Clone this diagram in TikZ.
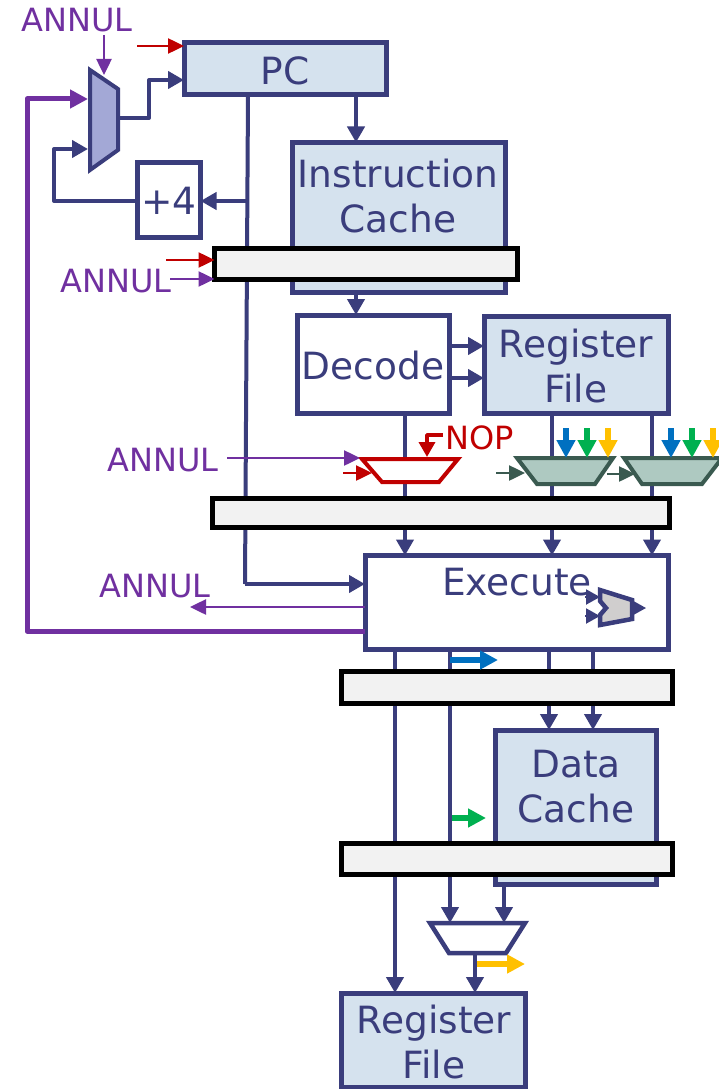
\documentclass[tikz,border=0pt]{standalone}
\usepackage{fontspec}
\setmainfont{DejaVu Sans}
\usetikzlibrary{arrows.meta,calc}
\definecolor{navy}{HTML}{3A3D7C}
\definecolor{boxblue}{HTML}{D5E2EE}
\definecolor{purp}{HTML}{7030A0}
\definecolor{redd}{HTML}{C00000}
\definecolor{latchfill}{HTML}{F2F2F2}
\definecolor{mux1fill}{HTML}{A3A8D6}
\definecolor{gmux}{HTML}{AEC9C1}
\definecolor{gline}{HTML}{3A5A50}
\definecolor{alufill}{HTML}{D0CECE}
\definecolor{cblue}{HTML}{0070C0}
\definecolor{cgreen}{HTML}{00B050}
\definecolor{cyellow}{HTML}{FFC000}
\newcommand{\bigf}{\fontsize{37.5}{45}\selectfont}
\newcommand{\smf}{\fontsize{32}{36}\selectfont}
\tikzset{
  x=1pt,y=-1pt,
  boxbase/.style={draw=navy,line width=5pt,outer sep=0pt,inner sep=0pt,text=navy,align=center,font=\bigf},
  bluebox/.style={boxbase,fill=boxblue},
  whitebox/.style={boxbase,fill=white},
  latch/.style={draw=black,fill=latchfill,line width=5pt,outer sep=0pt,inner sep=0pt},
  lbl/.style={text=navy,font=\bigf,align=center,inner sep=0pt},
  annul/.style={text=purp,font=\smf,inner sep=0pt},
  wire/.style={navy,line width=4pt,-{Triangle[length=16pt,width=17pt]}},
  plainwire/.style={navy,line width=4pt},
  thinp/.style={purp,line width=2.5pt,-{Triangle[length=16pt,width=15pt]}},
  thinr/.style={redd,line width=2.5pt,-{Triangle[length=16pt,width=15pt]}},
  thing/.style={gline,line width=2.5pt,-{Triangle[length=16pt,width=15pt]}},
  thickp/.style={purp,line width=5pt},
  colarrow/.style={line width=6.5pt,-{Triangle[length=18pt,width=18pt]}},
  muxslot/.style={inner sep=0pt,outer sep=0pt},
  redmux/.style={draw=redd,fill=white,line width=4pt},
  greenmux/.style={draw=gline,fill=gmux,line width=4pt},
}
\begin{document}
\begin{tikzpicture}
\useasboundingbox (0,0) rectangle (718,1089);
\fill[white] (0,0) rectangle (718,1089);

% guide coordinates
\foreach \n/\v in {248/248,356/356,405/405,552/552,652/652,395/395,450/450,549/549,593/593,504/504,475/475,245/245}
  {\coordinate (x\n) at (\v,0);}
\foreach \n/\v in {80/80,201/201,346/346,378/378,584/584,607/607,631/631}
  {\coordinate (y\n) at (0,\v);}

% boxes
\node[bluebox,minimum width=202pt,minimum height=52pt] (pc) at (285,69) {};
\node[bluebox,minimum width=212.5pt,minimum height=149.5pt] (icache) at (398.75,217.25) {};
\node[whitebox,minimum width=63pt,minimum height=74.5pt] (plus) at (169,199.75) {};
\node[whitebox,minimum width=152pt,minimum height=98pt] (decode) at (373,364) {};
\node[bluebox,minimum width=184pt,minimum height=97pt] (rf1) at (576,364.5) {};
\node[whitebox,minimum width=303pt,minimum height=93.5pt] (exec) at (516.5,602.25) {};
\node[bluebox,minimum width=160.5pt,minimum height=154pt] (dcache) at (575.75,807) {};
\node[bluebox,minimum width=184.5pt,minimum height=94pt] (rf2) at (433.25,1040) {};

% mux slots (named anchors for the drawn trapezia)
\node[muxslot,minimum width=28pt,minimum height=103pt] (mux1) at (104,119.5) {};
\node[muxslot,minimum width=100pt,minimum height=24pt] (muxn) at (410,471) {};
\node[muxslot,minimum width=100pt,minimum height=26pt] (muxa) at (565,471) {};
\node[muxslot,minimum width=100pt,minimum height=26pt] (muxb) at (672,471) {};
\node[muxslot,minimum width=101pt,minimum height=30pt] (muxw) at (477.5,938) {};

% free ends
\coordinate (mux1out) at (120,118);
\coordinate (mux1in1) at (88,99);
\coordinate (mux1in2) at (88,149);
\coordinate (bendA) at (149,118);
\coordinate (bendB) at (149,80);
\coordinate (loopA) at (54,201);
\coordinate (loopB) at (54,149);
\coordinate (tl) at (27,99);
\coordinate (bl) at (27,631);
\coordinate (tap) at (247,201);

% wires behind latches
\draw[plainwire] (x248 |- pc.south) -- (x245 |- y584);
\draw[wire] (x245 |- y584) -- (exec.west |- y584);
\draw[wire] (tap) -- (plus.east |- y201);
\draw[wire] (x356 |- pc.south) -- (x356 |- icache.north);
\draw[wire] (x356 |- icache.south) -- (x356 |- decode.north);
\draw[wire] (decode.east |- y346) -- (rf1.west |- y346);
\draw[wire] (decode.east |- y378) -- (rf1.west |- y378);
\draw[wire] (x405 |- decode.south) -- (x405 |- exec.north);
\draw[wire] (x552 |- rf1.south) -- (x552 |- exec.north);
\draw[wire] (x652 |- rf1.south) -- (x652 |- exec.north);
\draw[wire] (x395 |- exec.south) -- (x395 |- rf2.north);
\draw[wire] (x450 |- exec.south) -- (x450 |- muxw.north);
\draw[wire] (x549 |- exec.south) -- (x549 |- dcache.north);
\draw[wire] (x593 |- exec.south) -- (x593 |- dcache.north);
\draw[wire] (x504 |- dcache.south) -- (x504 |- muxw.north);
\draw[wire] (x475 |- muxw.south) -- (x475 |- rf2.north);

% muxes above pass-through wires
\draw[draw=navy,fill=mux1fill,line width=4pt,line join=miter] (90,70) -- (118,89) -- (118,150) -- (90,170) -- cycle;
\draw[redmux] (362,459) -- (458,459) -- (439,482) -- (382,482) -- cycle;
\draw[greenmux] (517,458) -- (613,458) -- (595,484) -- (537,484) -- cycle;
\draw[greenmux] (624,458) -- (722,458) -- (702,484) -- (642,484) -- cycle;
\draw[draw=navy,fill=white,line width=4.5pt] (430,923) -- (525,923) -- (506,953) -- (449,953) -- cycle;

% mux 1 wiring
\draw[wire,line join=round] (mux1out) -- (bendA) -- (bendB) -- (pc.west |- bendB);
\draw[wire,line join=round] (plus.west |- y201) -- (loopA) -- (loopB) -- (mux1in2);
\draw[thickp,line join=round,-{Triangle[length=18pt,width=18pt]}] (exec.west |- y631) -- (bl) -- (tl) -- (mux1in1);

% latches
\node[latch,minimum width=302.5pt,minimum height=31pt] (l1) at (365.75,264) {};
\node[latch,minimum width=457pt,minimum height=29pt] (l2) at (440.5,512.5) {};
\node[latch,minimum width=331pt,minimum height=32pt] (l3) at (507,687) {};
\node[latch,minimum width=331pt,minimum height=31pt] (l4) at (507,859) {};

% box texts
\node[lbl] (tpc) at (285,71) {PC};
\node[lbl] (tic) at (398,196) {Instruction\\Cache};
\node[lbl] (tplus) at (169,201) {+4};
\node[lbl] (tdec) at (373,366) {Decode};
\node[lbl] (trf1) at (576,366) {Register\\File};
\node[lbl] (tex) at (517,582) {Execute};
\node[lbl] (tdc) at (576,787) {Data\\Cache};
\node[lbl] (trf2) at (434,1042) {Register\\File};

% ALU
\path[draw=navy,fill=alufill,line width=4.5pt,line join=miter] (600,590) -- (632,600) -- (632,619) -- (600,625) -- (600,615) -- (606,608) -- (600,601) -- cycle;
\coordinate (alua) at (585,597);
\coordinate (aluain) at (600,597);
\coordinate (alub) at (585,616);
\coordinate (alubin) at (600,616);
\coordinate (aluo) at (632,608);
\coordinate (aluoe) at (646,608);
\draw[navy,line width=2pt,-{Triangle[length=14pt,width=15pt]}] (alua) -- (aluain);
\draw[navy,line width=2pt,-{Triangle[length=14pt,width=15pt]}] (alub) -- (alubin);
\draw[navy,line width=2pt,-{Triangle[length=14pt,width=15pt]}] (aluo) -- (aluoe);

% labels
\node[annul] (a1) at (77,20) {ANNUL};
\node[annul] (a2) at (116,281) {ANNUL};
\node[annul] (a3) at (163,460) {ANNUL};
\node[annul] (a4) at (155,586) {ANNUL};
\node[text=redd,font=\smf,inner sep=0pt] (nop) at (480,438) {NOP};

% control arrows
\coordinate (a1s) at (104,35);
\coordinate (a1t) at (104,75);
\draw[thinp] (a1s) -- (a1t);
\coordinate (r1) at (137,46);
\draw[thinr] (r1) -- (pc.west |- r1);
\coordinate (r2) at (166,260);
\draw[thinr] (r2) -- (l1.west |- r2);
\coordinate (a2s) at (170,279);
\draw[thinp] (a2s) -- (l1.west |- a2s);
\coordinate (a3s) at (227,458);
\coordinate (a3e) at (360,458);
\draw[thinp] (a3s) -- (a3e);
\coordinate (r3s) at (343,473);
\coordinate (r3e) at (372,473);
\draw[thinr] (r3s) -- (r3e);
\coordinate (nopa) at (443,435);
\coordinate (nopb) at (427,435);
\coordinate (nopc) at (427,457);
\draw[redd,line width=3.5pt,-{Triangle[length=15pt,width=16pt]},line join=round] (nopa) -- (nopb) -- (nopc);
\coordinate (g1s) at (496,473);
\coordinate (g1e) at (525,473);
\draw[thing] (g1s) -- (g1e);
\coordinate (g2s) at (607,474);
\coordinate (g2e) at (635,474);
\draw[thing] (g2s) -- (g2e);
\coordinate (a4e) at (190,607);
\draw[thinp] (exec.west |- y607) -- (a4e);

% coloured arrows
\foreach \nm/\xx/\cc in {b1/566/cblue,c1/587/cgreen,d1/608/cyellow,b2/671/cblue,c2/692/cgreen,d2/713/cyellow}{
  \coordinate (\nm s) at (\xx,428);
  \coordinate (\nm e) at (\xx,458);
  \draw[colarrow,\cc] (\nm s) -- (\nm e);
}
\coordinate (bls) at (450,660);
\coordinate (ble) at (498,660);
\draw[colarrow,cblue] (bls) -- (ble);
\coordinate (grs) at (452,818);
\coordinate (gre) at (486,818);
\draw[colarrow,cgreen] (grs) -- (gre);
\coordinate (yes) at (477,964);
\coordinate (yee) at (525,964);
\draw[colarrow,cyellow] (yes) -- (yee);
\end{tikzpicture}
\end{document}
